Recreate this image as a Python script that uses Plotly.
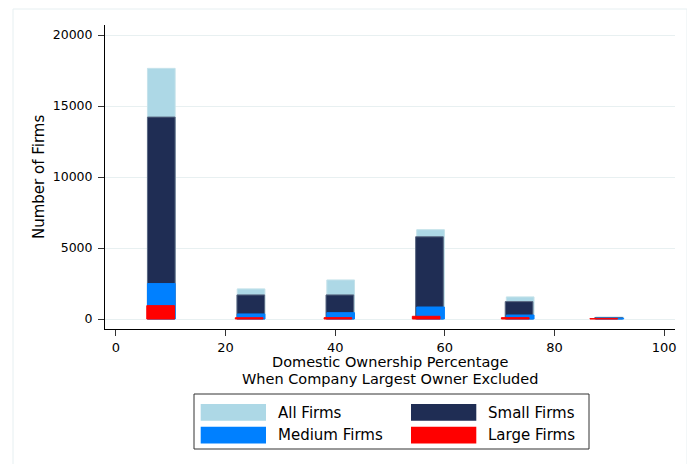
import plotly.graph_objects as go

# ---- data ----
bins_all = [8.27, 24.65, 41.0, 57.4, 73.75, 90.1]
bins_small = [8.27, 24.6, 40.85, 57.2, 73.55, 89.9]
bins_medium = [8.27, 24.65, 41.0, 57.4, 73.75, 90.1]
bins_large = [8.15, 24.3, 40.5, 56.6, 72.85, 89.0]

all_firms = [17650, 2120, 2750, 6290, 1555, 125]
small_firms = [14220, 1695, 1695, 5790, 1225, 110]
medium_firms = [2495, 355, 445, 845, 280, 60]
large_firms = [940, 90, 95, 190, 95, 30]

series_names = ["All Firms", "Small Firms", "Medium Firms", "Large Firms"]
x_ticks = [0, 20, 40, 60, 80, 100]
y_ticks = [0, 5000, 10000, 15000, 20000]

# ---- style ----
OFF = 8  # default page body margin
W, H = 695 - OFF, 464 - OFF
# plot area in reference-screen pixels: x 105..675, y 25..329
PL, PR, PT, PB = 105 - OFF, 675 - OFF, 25 - OFF, 329 - OFF
ML, MR, MT, MB = PL, W - PR, PT, H - PB
PW, PH = PR - PL, PB - PT
FONT = "DejaVu Sans"
C_ALL = "#add8e6"
C_SMALL = "#1f2d54"
C_MED = "#0080ff"
C_LARGE = "#ff0000"
BAR_W = 5.05


def px(xs):
    """reference screen x pixel -> paper coordinate"""
    return (xs - OFF - PL) / PW


def py(ys):
    """reference screen y pixel -> paper coordinate"""
    return (PB - (ys - OFF)) / PH


fig = go.Figure()
for name, xs, ys, col, lc in [
    (series_names[0], bins_all, all_firms, C_ALL, "#c4e2ea"),
    (series_names[1], bins_small, small_firms, C_SMALL, "#5a6882"),
    (series_names[2], bins_medium, medium_firms, C_MED, C_MED),
    (series_names[3], bins_large, large_firms, C_LARGE, C_LARGE),
]:
    fig.add_trace(go.Bar(
        x=xs, y=ys, name=name, width=BAR_W,
        marker=dict(color=col, line=dict(color=lc, width=1)),
        showlegend=False,
    ))

fig.update_layout(
    width=W, height=H,
    margin=dict(l=ML, r=MR, t=MT, b=MB, pad=0),
    paper_bgcolor="white", plot_bgcolor="white",
    barmode="overlay",
    font=dict(family=FONT, size=12, color="black"),
    xaxis=dict(
        range=[-2.0, 102.0], tickvals=x_ticks, ticktext=[str(v) for v in x_ticks],
        showline=True, linecolor="black", linewidth=1,
        ticks="outside", ticklen=6, tickcolor="#333", tickwidth=1,
        showgrid=False, zeroline=False,
        tickfont=dict(family=FONT, size=13, color="black"),
    ),
    yaxis=dict(
        range=[-704, 20704], tickvals=y_ticks, ticktext=[str(v) for v in y_ticks],
        showline=True, linecolor="black", linewidth=1,
        ticks="outside", ticklen=6, tickcolor="#333", tickwidth=1,
        showgrid=True, gridcolor="#e8f0f1", gridwidth=1,
        zeroline=False,
        tickfont=dict(family=FONT, size=12.5, color="black"),
        ticklabelstandoff=3,
    ),
)

ann = []
# axis titles
ann.append(dict(x=px(390), y=py(362), xref="paper", yref="paper", text="Domestic Ownership Percentage",
                showarrow=False, font=dict(family=FONT, size=14.5, color="black"),
                xanchor="center", yanchor="middle"))
ann.append(dict(x=px(390), y=py(378.5), xref="paper", yref="paper", text="When Company Largest Owner Excluded",
                showarrow=False, font=dict(family=FONT, size=14.5, color="black"),
                xanchor="center", yanchor="middle"))
ann.append(dict(x=px(39), y=0.5, xref="paper", yref="paper", text="Number of Firms",
                showarrow=False, textangle=-90, font=dict(family=FONT, size=15, color="black"),
                xanchor="center", yanchor="middle"))

shapes = []
# outer faint frame
shapes.append(dict(type="rect", xref="paper", yref="paper",
                   x0=px(13), x1=px(687), y0=py(470), y1=py(9),
                   line=dict(color="#e6eff1", width=1), fillcolor="rgba(0,0,0,0)", layer="below"))
# legend box
shapes.append(dict(type="rect", xref="paper", yref="paper",
                   x0=px(194), x1=px(589), y0=py(449), y1=py(394),
                   line=dict(color="#333", width=1), fillcolor="white"))
legend_items = [
    (series_names[0], C_ALL, 200.7, 404, 276),
    (series_names[1], C_SMALL, 411, 404, 486),
    (series_names[2], C_MED, 200.7, 426.7, 276),
    (series_names[3], C_LARGE, 411, 426.7, 486),
]
for name, col, sx, sy, tx in legend_items:
    shapes.append(dict(type="rect", xref="paper", yref="paper",
                       x0=px(sx), x1=px(sx + 65.3), y0=py(sy + 16.8), y1=py(sy),
                       line=dict(width=0), fillcolor=col))
    ann.append(dict(x=px(tx), y=py(sy + 8.6), xref="paper", yref="paper", text=name,
                    showarrow=False, font=dict(family=FONT, size=15, color="black"),
                    xanchor="left", yanchor="middle"))

fig.update_layout(annotations=ann, shapes=shapes)
fig.write_html("out.html")
